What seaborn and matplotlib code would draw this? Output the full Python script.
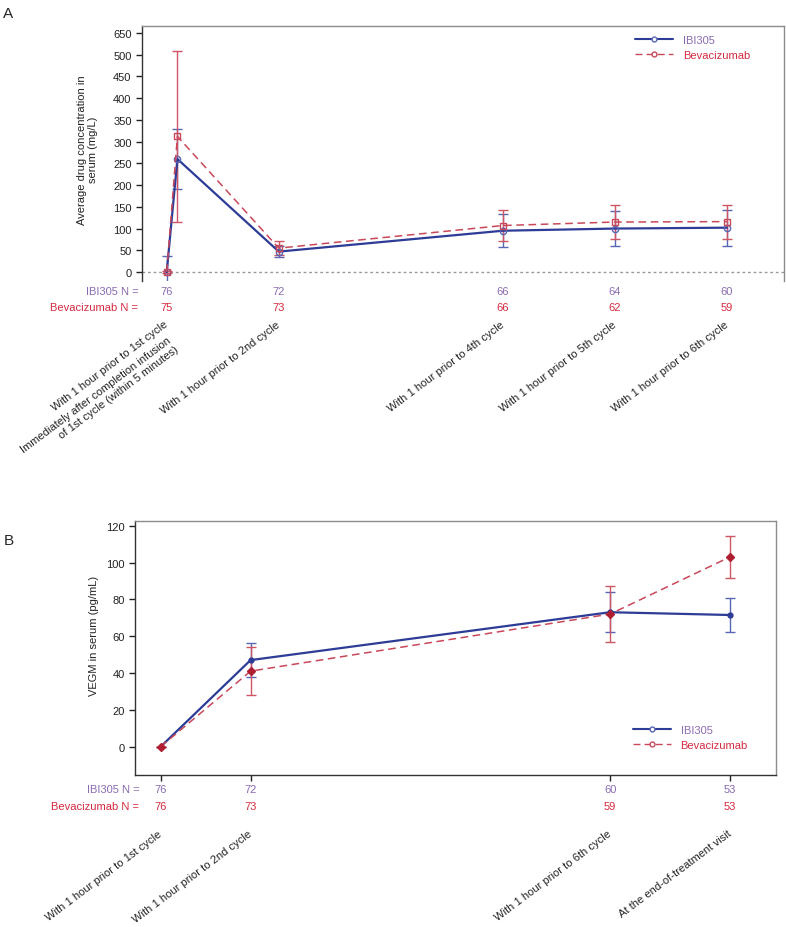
import seaborn as sns
from matplotlib import pyplot as plt
from matplotlib.lines import Line2D

# Panel A: average drug concentration in serum (mg/L)
days_a = [0, 2, 21, 63, 84, 105]
labels_a = ["With 1 hour prior to 1st cycle",
            "Immediately after completion infusion\nof 1st cycle (within 5 minutes)",
            "With 1 hour prior to 2nd cycle",
            "With 1 hour prior to 4th cycle",
            "With 1 hour prior to 5th cycle",
            "With 1 hour prior to 6th cycle"]
ibi_conc = [0, 260, 47, 95, 100, 102]
ibi_conc_sd = [36, 70, 13, 38, 41, 41]
bev_conc = [0, 312, 55, 107, 115, 116]
bev_conc_sd = [3, 197, 16, 35, 40, 39]
n_days_a = [0, 21, 63, 84, 105]
ibi_n_a = [76, 72, 66, 64, 60]
bev_n_a = [75, 73, 66, 62, 59]
yticks_a = [0, 50, 100, 150, 200, 250, 300, 350, 400, 450, 500, 550]
yticklabels_a = ["0", "50", "100", "150", "200", "250", "300", "350",
                 "400", "450", "500", "650"]

# Panel B: VEGM in serum (pg/mL)
days_b = [0, 21, 105, 133]
labels_b = ["With 1 hour prior to 1st cycle",
            "With 1 hour prior to 2nd cycle",
            "With 1 hour prior to 6th cycle",
            "At the end-of-treatment visit"]
ibi_vegm = [0, 47, 73, 71.5]
ibi_vegm_sd = [0, 9.2, 11, 9.4]
bev_vegm = [0, 41, 72, 103]
bev_vegm_sd = [0, 13, 15, 11.6]
ibi_n_b = [76, 72, 60, 53]
bev_n_b = [76, 73, 59, 53]

BLUE = "#2d3c96"
BLUE_ERR = "#5866b4"
RED = "#c8485a"
RED_ERR = "#cf5565"
RED_DARK = "#b01e32"
PURPLE = "#8a6bb0"
RED_TXT = "#d42a40"
ROT = 37


def draw_series(ax, x, y, sd, color, ecolor, ls, lw, marker, ms, mfc, mec):
    ax.errorbar(x, y, yerr=sd, fmt="none", ecolor=ecolor, elinewidth=1.0,
                capsize=3.5, capthick=1.0, zorder=2)
    sns.lineplot(x=x, y=y, ax=ax, color=color, linestyle=ls, linewidth=lw,
                 marker=marker, markersize=ms, markerfacecolor=mfc,
                 markeredgecolor=mec, markeredgewidth=1.0, zorder=3)


def add_n_rows(ax, xs, ibi_n, bev_n, x_lab, y1, y2):
    trans = ax.get_xaxis_transform()
    ax.text(x_lab, y1, "IBI305 N =", transform=ax.transAxes, ha="right",
            va="center", color=PURPLE, fontsize=8)
    ax.text(x_lab, y2, "Bevacizumab N =", transform=ax.transAxes, ha="right",
            va="center", color=RED_TXT, fontsize=8)
    for x, a, b in zip(xs, ibi_n, bev_n):
        ax.text(x, y1, str(a), transform=trans, ha="center", va="center",
                color=PURPLE, fontsize=8)
        ax.text(x, y2, str(b), transform=trans, ha="center", va="center",
                color=RED_TXT, fontsize=8)


def add_legend(ax, anchor):
    handles = [
        Line2D([], [], color=BLUE, lw=1.5, marker="o", ms=3.5, mfc="white",
               mec=BLUE_ERR),
        Line2D([], [], color=RED, lw=1.0, ls=(0, (5, 3)), marker="o", ms=3.5,
               mfc="white", mec=RED),
    ]
    leg = ax.legend(handles, ["IBI305", "Bevacizumab"], loc="upper left",
                    bbox_to_anchor=anchor, frameon=False, fontsize=8,
                    handlelength=3.4, handletextpad=0.9, labelspacing=0.45,
                    borderpad=0, borderaxespad=0)
    for txt, c in zip(leg.get_texts(), [PURPLE, RED_TXT]):
        txt.set_color(c)


def style_spines(ax, bottom):
    ax.spines["left"].set_color("#333333")
    ax.spines["top"].set_color("#8c8c8c")
    ax.spines["right"].set_color("#8c8c8c")
    ax.spines["bottom"].set_visible(bottom)
    ax.spines["bottom"].set_color("#333333")
    for sp in ax.spines.values():
        sp.set_linewidth(1.0)


sns.set_style("ticks")
plt.rcParams["font.family"] = ["Liberation Sans", "DejaVu Sans"]

fig = plt.figure(figsize=(7.86, 9.28), dpi=100)
ax_a = fig.add_axes([0.1807, 0.6961, 0.8168, 0.2748])
ax_b = fig.add_axes([0.1718, 0.1638, 0.8151, 0.2740])

# ---- Panel A ----
ax_a.axhline(0, color="#9a9a9a", lw=1.0, ls=(0, (2, 2)), zorder=1)
draw_series(ax_a, days_a, ibi_conc, ibi_conc_sd, BLUE, BLUE_ERR, "-", 1.6,
            "o", 4.5, "none", BLUE_ERR)
draw_series(ax_a, days_a, bev_conc, bev_conc_sd, RED, RED_ERR, (0, (5, 3)),
            1.1, "s", 5, "none", RED)
ax_a.set_xlim(-4.63, 115.7)
ax_a.set_ylim(-20.7, 566)
ax_a.set_yticks(yticks_a)
ax_a.set_yticklabels(yticklabels_a)
ax_a.set_xticks(days_a)
# the two-line label of the second time point is drawn on its own below
ax_a.set_xticklabels([lab if i != 1 else "" for i, lab in enumerate(labels_a)],
                     rotation=ROT, ha="right", va="center",
                     rotation_mode="anchor")
ax_a.text(days_a[0], -0.209, labels_a[1], transform=ax_a.get_xaxis_transform(),
          rotation=ROT, ha="right", va="top", rotation_mode="anchor",
          multialignment="right", fontsize=8, color="#222222",
          linespacing=1.25)
ax_a.tick_params(axis="x", length=0, pad=30, labelsize=8, colors="#222222")
ax_a.tick_params(axis="y", length=4, width=1, labelsize=8, colors="#222222")
ax_a.set_ylabel("Average drug concentration in\nserum (mg/L)", fontsize=8,
                color="#222222")
ax_a.yaxis.set_label_coords(-0.068, 0.518)
style_spines(ax_a, False)
add_n_rows(ax_a, n_days_a, ibi_n_a, bev_n_a, -0.006, -0.038, -0.101)
add_legend(ax_a, (0.768, 0.965))

# ---- Panel B ----
draw_series(ax_b, days_b, ibi_vegm, ibi_vegm_sd, BLUE, BLUE_ERR, "-", 1.6,
            "o", 3.5, BLUE, BLUE)
draw_series(ax_b, days_b, bev_vegm, bev_vegm_sd, RED, RED_ERR, (0, (5, 3)),
            1.1, "D", 4.5, RED_DARK, RED_DARK)
ax_b.set_xlim(-6.0, 143.7)
ax_b.set_ylim(-15.4, 122.7)
ax_b.set_yticks([0, 20, 40, 60, 80, 100, 120])
ax_b.set_xticks(days_b)
ax_b.set_xticklabels(labels_b, rotation=ROT, ha="right", va="center",
                     rotation_mode="anchor")
ax_b.tick_params(axis="x", length=4, width=1, pad=37, labelsize=8,
                 colors="#222222")
ax_b.tick_params(axis="y", length=4, width=1, labelsize=8, colors="#222222")
ax_b.set_ylabel("VEGM in serum (pg/mL)", fontsize=8, color="#222222")
ax_b.yaxis.set_label_coords(-0.056, 0.549)
style_spines(ax_b, True)
add_n_rows(ax_b, days_b, ibi_n_b, bev_n_b, 0.0067, -0.055, -0.12)
add_legend(ax_b, (0.777, 0.198))

fig.text(0.004, 0.985, "A", fontsize=11, ha="left", va="center")
fig.text(0.005, 0.4175, "B", fontsize=11, ha="left", va="center")

fig.savefig("out.png", dpi=100)
